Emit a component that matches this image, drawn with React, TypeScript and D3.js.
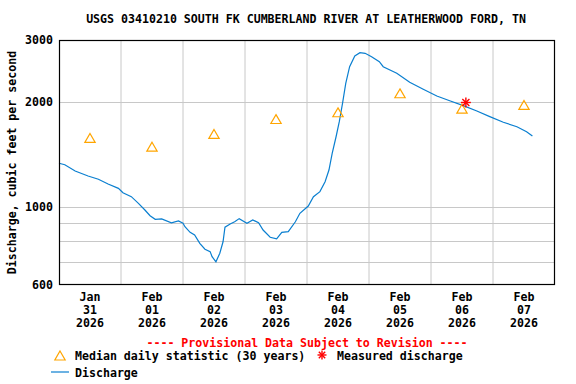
import React, { useRef, useEffect } from "react";
import * as d3 from "d3";

const title = "USGS 03410210 SOUTH FK CUMBERLAND RIVER AT LEATHERWOOD FORD, TN";
const yLabel = "Discharge, cubic feet per second";

// discharge readings (cfs)
const dischargeTimes = [
  "2026-01-31 00:00", "2026-01-31 02:15", "2026-01-31 06:15", "2026-01-31 11:15", "2026-01-31 15:15",
  "2026-01-31 19:00", "2026-01-31 23:00", "2026-02-01 00:45", "2026-02-01 04:00", "2026-02-01 06:45",
  "2026-02-01 09:15", "2026-02-01 11:15", "2026-02-01 13:15", "2026-02-01 15:45", "2026-02-01 19:30",
  "2026-02-01 22:15", "2026-02-02 00:00", "2026-02-02 00:45", "2026-02-02 02:45", "2026-02-02 04:30",
  "2026-02-02 06:30", "2026-02-02 08:30", "2026-02-02 10:30", "2026-02-02 11:15", "2026-02-02 12:45",
  "2026-02-02 14:15", "2026-02-02 15:30", "2026-02-02 16:15", "2026-02-02 18:15", "2026-02-02 20:00",
  "2026-02-02 21:45", "2026-02-03 00:45", "2026-02-03 03:00", "2026-02-03 05:15", "2026-02-03 07:00",
  "2026-02-03 09:45", "2026-02-03 12:15", "2026-02-03 14:15", "2026-02-03 16:45", "2026-02-03 19:30",
  "2026-02-03 21:15", "2026-02-04 00:30", "2026-02-04 02:30", "2026-02-04 05:00", "2026-02-04 07:00",
  "2026-02-04 08:30", "2026-02-04 09:45", "2026-02-04 11:15", "2026-02-04 12:30", "2026-02-04 13:45",
  "2026-02-04 15:00", "2026-02-04 16:30", "2026-02-04 18:30", "2026-02-04 20:30", "2026-02-04 22:30",
  "2026-02-05 01:00", "2026-02-05 04:00", "2026-02-05 05:30", "2026-02-05 10:45", "2026-02-05 15:45",
  "2026-02-05 21:00", "2026-02-06 02:15", "2026-02-06 07:30", "2026-02-06 12:30", "2026-02-06 17:45",
  "2026-02-06 22:45", "2026-02-07 04:00", "2026-02-07 09:15", "2026-02-07 13:00", "2026-02-07 15:15",
];
const dischargeValues = [
  1335, 1322, 1269, 1228, 1202,
  1165, 1132, 1100, 1072, 1026,
  982, 946, 924, 926, 903,
  914, 900, 880, 848, 833,
  789, 759, 747, 723, 699,
  739, 797, 877, 896, 909,
  928, 900, 920, 903, 861,
  821, 812, 848, 852, 909,
  961, 1008, 1072, 1108, 1183,
  1277, 1425, 1589, 1754, 1979,
  2257, 2517, 2701, 2760, 2749,
  2688, 2601, 2517, 2411, 2272,
  2170, 2077, 2010, 1949, 1882,
  1813, 1747, 1697, 1642, 1597,
];

// median daily statistic (30 years), plotted at noon
const medianDays = ["2026-01-31", "2026-02-01", "2026-02-02", "2026-02-03", "2026-02-04", "2026-02-05", "2026-02-06", "2026-02-07"];
const medianValues = [1576, 1489, 1618, 1785, 1866, 2114, 1911, 1958];

const measuredTimes = ["2026-02-06 13:30"];
const measuredValues = [1990];

const yTicks = [600, 1000, 2000, 3000];
const yGrid = [700, 800, 900, 1000, 2000];
const monthLabels = ["Jan", "Feb", "Feb", "Feb", "Feb", "Feb", "Feb", "Feb"];
const dayLabels = ["31", "01", "02", "03", "04", "05", "06", "07"];
const yearLabels = ["2026", "2026", "2026", "2026", "2026", "2026", "2026", "2026"];

export default function App() {
  const ref = useRef<SVGSVGElement>(null);

  useEffect(() => {
    const width = 576;
    const height = 384;
    const margin = { top: 40, right: 21, bottom: 99, left: 59 };
    const font = "'DejaVu Sans Mono', monospace";
    const parseT = d3.timeParse("%Y-%m-%d %H:%M");
    const parseD = d3.timeParse("%Y-%m-%d");

    const svg = d3.select(ref.current);
    svg.selectAll("*").remove();
    svg.attr("width", width).attr("height", height);

    const x = d3.scaleTime()
      .domain([parseD("2026-01-31")!, parseD("2026-02-08")!])
      .range([margin.left, width - margin.right]);
    const y = d3.scaleLog()
      .domain([600, 3000])
      .range([height - margin.bottom, margin.top]);

    svg.append("rect").attr("width", width).attr("height", height).attr("fill", "#fff");

    // grid
    const days = d3.timeDay.range(d3.timeDay.offset(x.domain()[0], 1), x.domain()[1]);
    svg.append("g").selectAll("line").data(days).enter().append("line")
      .attr("x1", d => x(d)).attr("x2", d => x(d))
      .attr("y1", margin.top).attr("y2", height - margin.bottom)
      .attr("stroke", "#c8c8c8").attr("stroke-width", 1);
    svg.append("g").selectAll("line").data(yGrid).enter().append("line")
      .attr("x1", margin.left).attr("x2", width - margin.right)
      .attr("y1", d => Math.round(y(d)) + 0.5).attr("y2", d => Math.round(y(d)) + 0.5)
      .attr("stroke", "#c8c8c8").attr("stroke-width", 1);

    // discharge line
    const series = dischargeTimes.map((t, i) => ({ t: parseT(t)!, v: dischargeValues[i] }));
    svg.append("path")
      .datum(series)
      .attr("fill", "none")
      .attr("stroke", "#0a7fd0")
      .attr("stroke-width", 1.2)
      .attr("d", d3.line<{ t: Date; v: number }>().x(d => x(d.t)).y(d => y(d.v)));

    // median triangles
    const tri = d3.symbol().type(d3.symbolTriangle).size(46);
    const medians = medianDays.map((d, i) => ({ t: d3.timeHour.offset(parseD(d)!, 12), v: medianValues[i] }));
    svg.append("g").selectAll("path").data(medians).enter().append("path")
      .attr("d", tri)
      .attr("transform", d => `translate(${x(d.t)},${y(d.v) + 1.5})`)
      .attr("fill", "none").attr("stroke", "#ffa500").attr("stroke-width", 1.2);

    // measured discharge
    const star = (g: d3.Selection<SVGGElement, unknown, null, undefined>, cx: number, cy: number, r: number) => {
      for (let k = 0; k < 4; k++) {
        const a = (k * Math.PI) / 4;
        g.append("line")
          .attr("x1", cx - r * Math.cos(a)).attr("y1", cy - r * Math.sin(a))
          .attr("x2", cx + r * Math.cos(a)).attr("y2", cy + r * Math.sin(a))
          .attr("stroke", "#f00").attr("stroke-width", 1.4);
      }
    };
    const mg = svg.append("g");
    measuredTimes.forEach((t, i) => star(mg, x(parseT(t)!), y(measuredValues[i]), 5));

    // frame
    svg.append("rect")
      .attr("x", margin.left + 0.5).attr("y", margin.top + 0.5)
      .attr("width", width - margin.left - margin.right - 1)
      .attr("height", height - margin.top - margin.bottom - 1)
      .attr("fill", "none").attr("stroke", "#000").attr("stroke-width", 1.2);

    const text = (tx: number, ty: number, s: string, anchor = "middle", color = "#000") =>
      svg.append("text").attr("x", tx).attr("y", ty).attr("text-anchor", anchor)
        .attr("font-family", font).attr("font-size", 11.6).attr("font-weight", "bold")
        .attr("fill", color).text(s);

    text(width / 2 + 18, 23, title);

    // y axis labels
    yTicks.forEach(v => text(margin.left - 6, y(v) + 4, String(v), "end"));
    svg.append("text")
      .attr("transform", `translate(16,${(margin.top + height - margin.bottom) / 2}) rotate(-90)`)
      .attr("text-anchor", "middle")
      .attr("font-family", font).attr("font-size", 11.6).attr("font-weight", "bold")
      .text(yLabel);

    // x labels at noon of each day
    const noons = d3.timeDay.range(x.domain()[0], x.domain()[1]).map(d => d3.timeHour.offset(d, 12));
    noons.forEach((d, i) => {
      text(x(d), 301, monthLabels[i]);
      text(x(d), 314, dayLabels[i]);
      text(x(d), 327, yearLabels[i]);
    });

    text(307, 347, "---- Provisional Data Subject to Revision ----", "middle", "#f00");

    // legend
    svg.append("path").attr("d", tri).attr("transform", "translate(60,357)")
      .attr("fill", "none").attr("stroke", "#ffa500").attr("stroke-width", 1.2);
    text(75, 360, "Median daily statistic (30 years)", "start");
    star(svg.append("g"), 322, 355, 4.5);
    text(337, 360, "Measured discharge", "start");
    svg.append("line").attr("x1", 51).attr("x2", 69).attr("y1", 372).attr("y2", 372)
      .attr("stroke", "#0a7fd0").attr("stroke-width", 1.2);
    text(75, 377, "Discharge", "start");
  }, []);

  return <svg ref={ref} style={{ position: "absolute", left: 0, top: 0, display: "block" }}></svg>;
}
